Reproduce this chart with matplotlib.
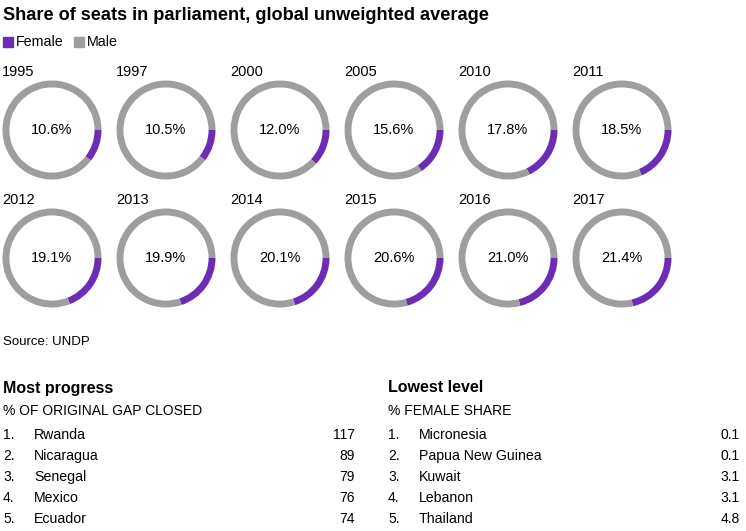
import matplotlib
matplotlib.use("Agg")
import matplotlib.pyplot as plt

plt.rcParams['font.family'] = ['Liberation Sans', 'DejaVu Sans']

years = ["1995", "1997", "2000", "2005", "2010", "2011",
         "2012", "2013", "2014", "2015", "2016", "2017"]
female_share = [10.6, 10.5, 12.0, 15.6, 17.8, 18.5,
                19.1, 19.9, 20.1, 20.6, 21.0, 21.4]

progress_names = ["Rwanda", "Nicaragua", "Senegal", "Mexico", "Ecuador"]
progress_vals = ["117", "89", "79", "76", "74"]
lowest_names = ["Micronesia", "Papua New Guinea", "Kuwait", "Lebanon", "Thailand"]
lowest_vals = ["0.1", "0.1", "3.1", "3.1", "4.8"]

PURPLE = "#6a2db4"
GREY = "#9e9e9e"
W, H = 746, 531

fig = plt.figure(figsize=(W / 100, H / 100), dpi=100)


def px(x, y):
    return x / W, 1 - y / H


def txt(x, y, s, **kw):
    fig.text(*px(x, y), s, va="center", **kw)


txt(3, 15, "Share of seats in parliament, global unweighted average",
    fontsize=13.1, fontweight="bold")

# legend
fig.patches.append(plt.Rectangle(px(3, 47), 10 / W, 10 / H, color=PURPLE,
                                 transform=fig.transFigure))
txt(16, 42, "Female", fontsize=10.3)
fig.patches.append(plt.Rectangle(px(74, 47), 10 / W, 10 / H, color=GREY,
                                 transform=fig.transFigure))
txt(87, 42, "Male", fontsize=10.3)

# donuts
for i, (yr, f) in enumerate(zip(years, female_share)):
    row, col = divmod(i, 6)
    cx = 52 + col * 114
    cy = 130 + row * 128
    ax = fig.add_axes([(cx - 50) / W, 1 - (cy + 50) / H, 100 / W, 100 / H])
    ax.pie([f, 100 - f], colors=[PURPLE, GREY], startangle=0,
           counterclock=False, radius=1, wedgeprops=dict(width=0.14))
    ax.set_xlim(-1.01, 1.01)
    ax.set_ylim(-1.01, 1.01)
    ax.text(0, 0, f"{f:.1f}%", ha="center", va="center", fontsize=10.5)
    txt(cx - 50, cy - 58, yr, fontsize=10.5)

txt(3, 342, "Source: UNDP", fontsize=9.5)

# tables
for x0, xr, title, sub, names, vals in [
        (3, 355, "Most progress", "% OF ORIGINAL GAP CLOSED", progress_names, progress_vals),
        (388, 740, "Lowest level", "% FEMALE SHARE", lowest_names, lowest_vals)]:
    txt(x0, 388, title, fontsize=11.5, fontweight="bold")
    txt(x0, 411, sub, fontsize=10)
    for k, (n, v) in enumerate(zip(names, vals)):
        yy = 435 + k * 21
        txt(x0, yy, f"{k + 1}.", fontsize=10)
        txt(x0 + 31, yy, n, fontsize=10.2)
        txt(xr, yy, v, fontsize=10, ha="right")

fig.savefig("out.png", dpi=100)
